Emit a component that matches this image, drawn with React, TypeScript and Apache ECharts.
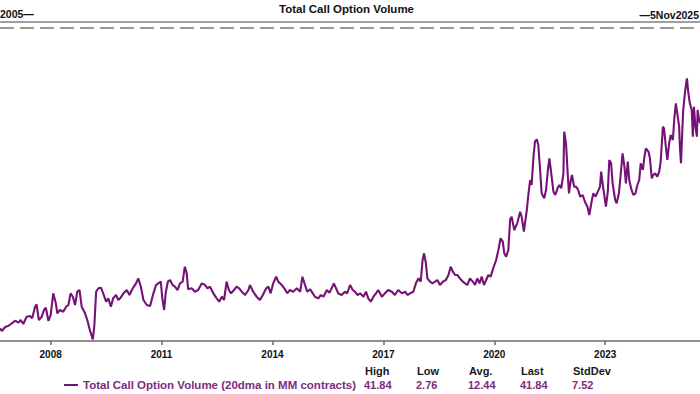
import React, { useEffect, useRef } from "react";
import * as echarts from "echarts";

// Decimal years (visible window starts ~Aug 2006; last points run past the crop edge)
const years: number[] = [
  2006.63, 2006.68, 2006.77, 2006.85, 2006.95, 2007.04, 2007.13, 2007.19, 2007.26, 2007.35,
  2007.44, 2007.50, 2007.58, 2007.62, 2007.68, 2007.76, 2007.82, 2007.87, 2007.94, 2008.00,
  2008.07, 2008.14, 2008.18, 2008.25, 2008.34, 2008.42, 2008.48, 2008.54, 2008.60, 2008.66,
  2008.72, 2008.78, 2008.84, 2008.93, 2008.99, 2009.06, 2009.14, 2009.18, 2009.23, 2009.29,
  2009.36, 2009.42, 2009.50, 2009.56, 2009.63, 2009.69, 2009.77, 2009.83, 2009.88, 2009.97,
  2010.06, 2010.13, 2010.22, 2010.31, 2010.37, 2010.44, 2010.51, 2010.60, 2010.69, 2010.78,
  2010.85, 2010.91, 2010.98, 2011.02, 2011.07, 2011.11, 2011.17, 2011.23, 2011.30, 2011.36,
  2011.43, 2011.50, 2011.57, 2011.63, 2011.68, 2011.72, 2011.82, 2011.90, 2011.99, 2012.09,
  2012.18, 2012.24, 2012.31, 2012.40, 2012.49, 2012.56, 2012.63, 2012.69, 2012.76, 2012.82,
  2012.88, 2012.96, 2013.03, 2013.10, 2013.17, 2013.26, 2013.35, 2013.39, 2013.48, 2013.57,
  2013.66, 2013.74, 2013.83, 2013.89, 2013.95, 2014.02, 2014.10, 2014.16, 2014.25, 2014.32,
  2014.40, 2014.47, 2014.56, 2014.66, 2014.75, 2014.81, 2014.88, 2014.94, 2015.02, 2015.09,
  2015.15, 2015.24, 2015.31, 2015.38, 2015.47, 2015.54, 2015.60, 2015.66, 2015.72, 2015.78,
  2015.87, 2015.96, 2016.02, 2016.10, 2016.17, 2016.23, 2016.30, 2016.37, 2016.46, 2016.53,
  2016.59, 2016.66, 2016.73, 2016.80, 2016.86, 2016.96, 2017.04, 2017.13, 2017.23, 2017.31,
  2017.40, 2017.50, 2017.59, 2017.65, 2017.72, 2017.81, 2017.88, 2017.95, 2018.01, 2018.06,
  2018.10, 2018.15, 2018.19, 2018.26, 2018.33, 2018.40, 2018.46, 2018.53, 2018.61, 2018.69,
  2018.76, 2018.82, 2018.88, 2018.94, 2019.00, 2019.07, 2019.15, 2019.21, 2019.27, 2019.34,
  2019.42, 2019.48, 2019.54, 2019.60, 2019.66, 2019.72, 2019.78, 2019.84, 2019.90, 2019.97,
  2020.05, 2020.11, 2020.17, 2020.23, 2020.27, 2020.32, 2020.38, 2020.43, 2020.47, 2020.54,
  2020.62, 2020.70, 2020.74, 2020.80, 2020.88, 2020.92, 2020.97, 2021.01, 2021.06, 2021.10,
  2021.15, 2021.19, 2021.24, 2021.28, 2021.35, 2021.40, 2021.45, 2021.49, 2021.53, 2021.60,
  2021.65, 2021.71, 2021.76, 2021.81, 2021.87, 2021.89, 2021.94, 2021.99, 2022.02, 2022.07,
  2022.10, 2022.16, 2022.21, 2022.27, 2022.32, 2022.39, 2022.45, 2022.52, 2022.57, 2022.64,
  2022.68, 2022.74, 2022.80, 2022.86, 2022.89, 2022.93, 2022.98, 2023.02, 2023.07, 2023.11,
  2023.16, 2023.20, 2023.27, 2023.31, 2023.37, 2023.43, 2023.47, 2023.52, 2023.56, 2023.61,
  2023.65, 2023.70, 2023.76, 2023.82, 2023.87, 2023.92, 2023.96, 2024.02, 2024.06, 2024.10,
  2024.17, 2024.21, 2024.26, 2024.30, 2024.35, 2024.41, 2024.46, 2024.50, 2024.56, 2024.59,
  2024.64, 2024.68, 2024.73, 2024.77, 2024.83, 2024.87, 2024.91, 2024.95, 2025.00, 2025.02,
  2025.05, 2025.09, 2025.11, 2025.16, 2025.21, 2025.25, 2025.29, 2025.34, 2025.37, 2025.40,
  2025.44, 2025.48, 2025.50, 2025.54, 2025.57, 2025.65, 2025.75, 2025.85,
];

// Total call option volume, 20-day average, millions of contracts
const volume: number[] = [
  4.46, 4.08, 4.65, 4.79, 5.17, 5.54, 5.26, 5.64, 5.07, 6.11,
  6.21, 5.88, 7.53, 7.87, 5.64, 6.11, 7.06, 7.39, 5.50, 6.35,
  9.43, 8.01, 6.59, 7.06, 6.82, 7.53, 7.77, 9.43, 8.95, 7.77,
  9.66, 9.90, 7.53, 6.59, 5.64, 4.22, 2.90, 4.69, 9.66, 10.14,
  10.23, 9.43, 8.24, 8.72, 7.53, 8.72, 9.19, 8.48, 8.72, 9.43,
  9.90, 9.19, 10.14, 10.85, 11.56, 10.37, 8.48, 7.77, 7.63, 9.43,
  10.61, 10.85, 11.08, 8.72, 7.06, 9.43, 11.08, 11.32, 10.61, 10.37,
  9.90, 10.85, 11.08, 13.21, 12.27, 10.00, 10.14, 9.66, 9.90, 10.85,
  10.61, 10.14, 10.37, 9.43, 8.72, 8.24, 8.95, 8.48, 11.08, 9.90,
  9.43, 9.90, 10.37, 10.14, 9.66, 9.19, 9.90, 10.61, 9.66, 8.95,
  8.48, 9.19, 10.14, 10.37, 9.43, 10.85, 11.79, 11.08, 10.61, 10.14,
  9.43, 9.90, 9.66, 10.14, 9.66, 11.79, 10.61, 9.66, 10.00, 9.43,
  8.95, 8.72, 9.19, 8.95, 9.90, 9.52, 10.14, 10.85, 10.14, 9.43,
  9.19, 9.66, 9.43, 10.61, 9.90, 9.66, 9.19, 9.43, 8.95, 9.66,
  8.72, 8.24, 8.95, 9.43, 9.90, 8.95, 9.43, 9.90, 9.66, 9.19,
  9.90, 9.43, 9.66, 9.19, 9.43, 9.66, 10.85, 11.56, 11.08, 14.16,
  15.11, 13.69, 11.56, 11.08, 10.85, 11.08, 11.32, 10.61, 11.08, 11.32,
  12.03, 13.21, 12.50, 12.03, 12.03, 11.56, 11.08, 10.85, 10.61, 11.56,
  11.08, 10.61, 11.56, 10.85, 11.79, 10.61, 11.32, 12.03, 11.79, 12.98,
  14.16, 15.58, 17.24, 16.76, 15.11, 14.63, 15.58, 19.98, 20.31, 18.42,
  19.37, 21.02, 20.31, 18.18, 21.26, 23.39, 25.52, 24.81, 28.83, 30.96,
  31.30, 30.49, 26.94, 23.63, 22.92, 24.10, 26.94, 28.60, 26.94, 23.86,
  23.39, 24.34, 24.81, 24.34, 26.47, 32.38, 30.73, 25.99, 23.63, 25.52,
  26.23, 24.57, 24.57, 24.10, 23.15, 23.39, 22.44, 21.73, 20.55, 22.68,
  23.63, 23.15, 23.86, 24.57, 26.70, 25.05, 23.15, 21.73, 23.86, 28.36,
  27.89, 25.05, 22.68, 22.21, 23.63, 26.94, 29.31, 27.41, 25.05, 28.12,
  25.52, 24.34, 23.39, 23.63, 24.81, 25.52, 27.89, 26.94, 28.83, 30.02,
  29.54, 28.60, 25.76, 26.23, 26.47, 25.99, 26.70, 28.12, 33.09, 32.86,
  30.25, 28.36, 30.73, 31.91, 31.20, 34.28, 36.41, 34.99, 33.09, 30.25,
  27.89, 33.09, 35.46, 38.06, 39.96, 37.83, 36.41, 35.46, 31.67, 35.93,
  33.09, 31.67, 35.46, 34.04, 33.57, 36.5, 39.0, 41.84,
];

const tickYears: number[] = [2008, 2011, 2014, 2017, 2020, 2023];

const seriesName = "Total Call Option Volume (20dma in MM contracts)";
const chartTitle = "Total Call Option Volume";
const startLabel = "2005\u2014";
const endLabel = "\u20145Nov2025";

const statLabels: string[] = ["High", "Low", "Avg.", "Last", "StdDev"];
const statValues: string[] = ["41.84", "2.76", "12.44", "41.84", "7.52"];

const FONT = "'Liberation Sans', Arial, sans-serif";
const PURPLE = "#761276";
const TEXT_PURPLE = "#7e2a80";

export default function App() {
  const ref = useRef<HTMLDivElement>(null);

  useEffect(() => {
    if (!ref.current) return;
    const chart = echarts.init(ref.current, null, { renderer: "svg" });

    const statCols = [365, 417, 469, 521, 573];
    const statGraphics: any[] = [];
    statLabels.forEach((lab, i) => {
      statGraphics.push({
        type: "text",
        x: statCols[i],
        y: 371,
        style: {
          text: lab,
          fill: "#1a1a1a",
          font: `bold 11px ${FONT}`,
          textAlign: "left",
          textVerticalAlign: "middle",
        },
      });
      statGraphics.push({
        type: "text",
        x: statCols[i] - 1,
        y: 385,
        style: {
          text: statValues[i],
          fill: TEXT_PURPLE,
          font: `bold 11px ${FONT}`,
          textAlign: "left",
          textVerticalAlign: "middle",
        },
      });
    });

    const option: any = {
      animation: false,
      backgroundColor: "#ffffff",
      grid: { left: 0, right: 0, top: 30, bottom: 53 },
      xAxis: {
        type: "value",
        min: 2006.63,
        max: 2025.564,
        splitLine: { show: false },
        axisLine: { show: true, lineStyle: { color: "#6a6a6a", width: 1.5 } },
        axisTick: {
          show: true,
          customValues: tickYears,
          length: 4,
          lineStyle: { color: "#6a6a6a", width: 1.5 },
        },
        axisLabel: {
          customValues: tickYears,
          formatter: (v: number) => String(Math.round(v)),
          color: "#111111",
          fontSize: 10,
          fontWeight: "bold",
          fontFamily: FONT,
          margin: 8,
        },
      },
      yAxis: {
        type: "value",
        min: 2.66,
        max: 46.82,
        show: false,
        splitLine: { show: false },
      },
      legend: {
        data: [seriesName],
        left: 64,
        top: 379,
        padding: 0,
        icon: "rect",
        itemWidth: 14,
        itemHeight: 2,
        textStyle: {
          color: TEXT_PURPLE,
          fontSize: 11.5,
          fontWeight: "bold",
          fontFamily: FONT,
        },
      },
      series: [
        {
          type: "line",
          name: seriesName,
          data: years.map((y, i) => [y, volume[i]]),
          showSymbol: false,
          clip: true,
          lineStyle: { color: PURPLE, width: 2.1 },
          itemStyle: { color: PURPLE },
        },
      ],
      graphic: [
        {
          type: "line",
          shape: { x1: 0, y1: 22, x2: 700, y2: 22 },
          style: { stroke: "#808080", lineWidth: 1.5 },
        },
        {
          type: "line",
          shape: { x1: 0, y1: 28, x2: 700, y2: 28 },
          style: { stroke: "#9a9a9a", lineWidth: 2, lineDash: [14, 6] },
        },
        {
          type: "text",
          x: 346.5,
          y: 9,
          style: {
            text: chartTitle,
            fill: "#111111",
            font: `bold 11.5px ${FONT}`,
            textAlign: "center",
            textVerticalAlign: "middle",
          },
        },
        {
          type: "text",
          x: 0,
          y: 14,
          style: {
            text: startLabel,
            fill: "#111111",
            font: `bold 10.5px ${FONT}`,
            textAlign: "left",
            textVerticalAlign: "middle",
          },
        },
        {
          type: "text",
          x: 699,
          y: 15,
          style: {
            text: endLabel,
            fill: "#111111",
            font: `bold 10.5px ${FONT}`,
            textAlign: "right",
            textVerticalAlign: "middle",
          },
        },
        ...statGraphics,
      ],
    };

    chart.setOption(option);
    return () => {
      chart.dispose();
    };
  }, []);

  return (
    <div
      ref={ref}
      style={{ position: "fixed", left: 0, top: 0, width: 700, height: 394, background: "#fff" }}
    />
  );
}
